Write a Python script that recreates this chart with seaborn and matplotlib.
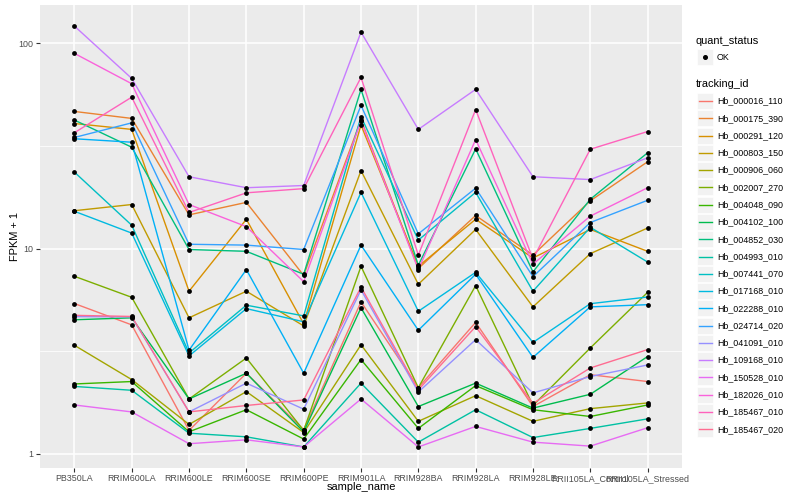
import numpy as np
import pandas as pd
import matplotlib
matplotlib.use('Agg')
import matplotlib.pyplot as plt
import seaborn as sns
from matplotlib.patches import Rectangle
from matplotlib.lines import Line2D

# Samples on the x axis, in plotting order
samples = ['PB350LA', 'RRIM600LA', 'RRIM600LE', 'RRIM600SE', 'RRIM600PE', 'RRIM901LA',
           'RRIM928BA', 'RRIM928LA', 'RRIM928LE', 'RRII105LA_Control', 'RRII105LA_Stressed']

tracking_ids = ['Hb_000016_110', 'Hb_000175_390', 'Hb_000291_120', 'Hb_000803_150',
                'Hb_000906_060', 'Hb_002007_270', 'Hb_004048_090', 'Hb_004102_100',
                'Hb_004852_030', 'Hb_004993_010', 'Hb_007441_070', 'Hb_017168_010',
                'Hb_022288_010', 'Hb_024714_020', 'Hb_041091_010', 'Hb_109168_010',
                'Hb_150528_010', 'Hb_182026_010', 'Hb_185467_010', 'Hb_185467_020']

# FPKM + 1 per gene, one value per sample
hb_000016_110 = [5.4, 4.25, 1.3, 2.47, 1.31, 5.5, 2.1, 4.37, 1.7, 2.43, 2.25]
hb_000175_390 = [46.6, 43.1, 14.6, 16.8, 7.4, 42.5, 8.0, 14.5, 9.3, 17.1, 26.5]
hb_000291_120 = [40.7, 38.1, 6.2, 13.9, 4.3, 40.0, 8.2, 13.9, 9.0, 12.4, 9.7]
hb_000803_150 = [15.3, 16.4, 4.6, 6.2, 4.2, 24.0, 6.7, 12.4, 5.2, 9.45, 12.6]
hb_000906_060 = [3.38, 2.30, 1.39, 2.01, 1.27, 3.4, 1.44, 1.92, 1.44, 1.66, 1.77]
hb_002007_270 = [7.33, 5.79, 1.85, 2.93, 1.3, 8.2, 2.1, 6.6, 1.72, 3.28, 6.12]
hb_004048_090 = [2.19, 2.25, 1.28, 1.64, 1.18, 2.88, 1.33, 2.15, 1.64, 1.52, 1.73]
hb_004102_100 = [4.5, 4.6, 1.85, 2.47, 1.28, 5.15, 1.7, 2.21, 1.67, 1.95, 2.98]
hb_004852_030 = [42.3, 31.2, 9.9, 9.7, 7.5, 59.7, 8.3, 30.6, 7.7, 17.4, 29.3]
hb_004993_010 = [2.13, 2.04, 1.26, 1.21, 1.08, 2.21, 1.14, 1.64, 1.2, 1.33, 1.48]
hb_007441_070 = [23.6, 13.0, 3.1, 5.3, 4.7, 44.0, 11.0, 18.8, 6.2, 12.7, 8.6]
hb_017168_010 = [15.2, 11.9, 3.0, 5.1, 4.4, 18.8, 4.95, 7.66, 3.49, 5.39, 5.81]
hb_022288_010 = [34.3, 33.0, 3.2, 7.9, 2.47, 10.4, 4.0, 7.5, 2.95, 5.2, 5.33]
hb_024714_020 = [34.8, 41.0, 10.5, 10.4, 9.9, 49.9, 11.8, 19.7, 7.3, 13.4, 17.2]
hb_041091_010 = [4.66, 4.65, 1.6, 2.21, 1.65, 6.3, 2.0, 3.6, 1.98, 2.38, 2.71]
hb_109168_010 = [121.5, 67.5, 22.4, 19.8, 20.3, 113.5, 38.1, 59.7, 22.4, 21.7, 27.7]
hb_150528_010 = [1.73, 1.60, 1.12, 1.17, 1.08, 1.85, 1.08, 1.36, 1.14, 1.09, 1.34]
hb_182026_010 = [89.4, 63.6, 16.4, 12.8, 6.9, 41.8, 7.9, 34.0, 8.4, 14.4, 19.8]
hb_185467_010 = [36.7, 54.7, 15.0, 18.7, 19.6, 68.3, 9.3, 47.6, 8.9, 30.5, 37.2]
hb_185467_020 = [4.73, 4.67, 1.6, 1.72, 1.83, 6.5, 2.05, 4.17, 1.76, 2.62, 3.22]

series_values = [hb_000016_110, hb_000175_390, hb_000291_120, hb_000803_150,
                 hb_000906_060, hb_002007_270, hb_004048_090, hb_004102_100,
                 hb_004852_030, hb_004993_010, hb_007441_070, hb_017168_010,
                 hb_022288_010, hb_024714_020, hb_041091_010, hb_109168_010,
                 hb_150528_010, hb_182026_010, hb_185467_010, hb_185467_020]

# ggplot2 default hue palette for 20 levels
colors = ['#F8766D', '#EA8331', '#D89000', '#C09B00', '#A3A500', '#7CAE00', '#39B600',
          '#00BB4E', '#00BF7D', '#00C1A3', '#00BFC4', '#00BAE0', '#00B0F6', '#35A2FF',
          '#9590FF', '#C77CFF', '#E76BF3', '#FA62DB', '#FF62BC', '#FF6C91']

rows = []
for tid, vals in zip(tracking_ids, series_values):
    for s, v in zip(samples, vals):
        rows.append({'sample_name': s, 'tracking_id': tid, 'fpkm1': v, 'quant_status': 'OK'})
df = pd.DataFrame(rows)

plt.rcParams['font.family'] = ['Liberation Sans', 'DejaVu Sans']

W, H = 800, 500
fig = plt.figure(figsize=(8, 5), dpi=100)
# panel placement in pixels: left 40, right 682, top 5, bottom 468
ax = fig.add_axes([40 / W, 1 - 468 / H, 642 / W, 463 / H])
ax.set_facecolor('#EBEBEB')
ax.set_yscale('log')

sns.lineplot(data=df, x='sample_name', y='fpkm1', hue='tracking_id', hue_order=tracking_ids,
             palette=colors, estimator=None, sort=False, linewidth=1.0, legend=False, ax=ax)
sns.scatterplot(data=df, x='sample_name', y='fpkm1', color='black', s=12, linewidth=0,
                legend=False, ax=ax, zorder=3)

# ggplot-like 5% expansion on the log scale
lo, hi = np.log10(df['fpkm1'].min()), np.log10(df['fpkm1'].max())
pad = 0.05 * (hi - lo)
ax.set_ylim(10 ** (lo - pad), 10 ** (hi + pad))
ax.set_xlim(-0.6, len(samples) - 1 + 0.6)

ax.set_yticks([1, 10, 100])
ax.set_yticklabels(['1', '10', '100'])
ax.set_yticks([10 ** 0.5, 10 ** 1.5], minor=True)
ax.yaxis.set_minor_formatter(matplotlib.ticker.NullFormatter())

ax.grid(True, which='major', color='white', linewidth=1.1)
ax.grid(True, which='minor', axis='y', color='white', linewidth=0.55)
ax.set_axisbelow(True)
for sp in ax.spines.values():
    sp.set_visible(False)

ax.tick_params(axis='both', which='major', length=3, width=0.8, color='#333333',
               labelsize=6.4, labelcolor='#4D4D4D', pad=1.5)
ax.tick_params(axis='both', which='minor', length=0)

ax.set_xlabel('sample_name', fontsize=7.9, labelpad=-1)
ax.set_ylabel('FPKM + 1', fontsize=7.9, labelpad=-1)


def fx(px):
    return px / W


def fy(py):
    return 1 - py / H


# legend: quant_status
fig.text(fx(696), fy(41), 'quant_status', fontsize=7.9, va='center', ha='left')
fig.add_artist(Rectangle((fx(697), fy(65)), 16 / W, 16 / H, transform=fig.transFigure,
                         facecolor='#F2F2F2', edgecolor='white', linewidth=0.5))
fig.add_artist(Line2D([fx(705)], [fy(57)], transform=fig.transFigure, marker='o',
                      markersize=2.6, color='black', linestyle='none'))
fig.text(fx(717), fy(57), 'OK', fontsize=6.4, va='center', ha='left')

# legend: tracking_id
fig.text(fx(696), fy(84), 'tracking_id', fontsize=7.9, va='center', ha='left')
step = 17.28
for i, (tid, col) in enumerate(zip(tracking_ids, colors)):
    yc = 101 + i * step
    fig.add_artist(Rectangle((fx(697), fy(yc + 8)), 16 / W, 16 / H, transform=fig.transFigure,
                             facecolor='#F2F2F2', edgecolor='white', linewidth=0.5))
    fig.add_artist(Line2D([fx(698.5), fx(711.5)], [fy(yc), fy(yc)], transform=fig.transFigure,
                          color=col, linewidth=1.0))
    fig.text(fx(717), fy(yc), tid, fontsize=6.4, va='center', ha='left')

fig.savefig('out.png', dpi=100)
plt.close(fig)
